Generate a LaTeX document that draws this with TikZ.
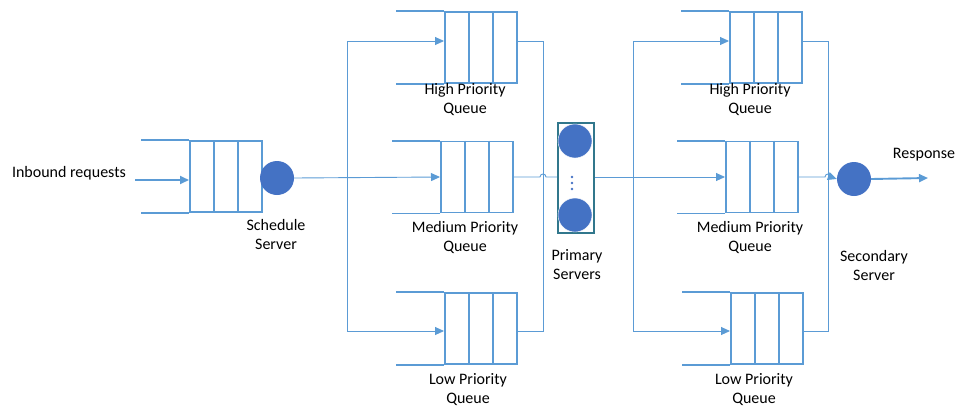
\documentclass[tikz,border=0pt]{standalone}
\usepackage{fontspec}
\setmainfont{Carlito}
\usetikzlibrary{arrows.meta,calc}

\definecolor{qblue}{RGB}{91,155,213}
\definecolor{sblue}{RGB}{68,114,196}
\definecolor{tealframe}{RGB}{49,119,140}

\tikzset{
  qline/.style={draw=qblue,line width=1.9pt},
  conn/.style={draw=qblue,line width=0.9pt},
  tip/.style={-{Triangle[length=9pt,width=8pt]}},
  server/.style={circle,fill=sblue,minimum size=34pt,inner sep=0pt},
  lbl/.style={align=center,font=\fontsize{16}{19}\selectfont,inner sep=0pt},
  qbox/.style={rectangle,qline,minimum width=72pt,minimum height=71pt,inner sep=0pt,anchor=west}
}

% a three-cell queue: name, left x, centre y
\newcommand{\queue}[3]{%
  \node[qbox] (#1) at (#2,#3) {};
  \draw[qline] ($(#1.north west)!1/3!(#1.north east)$) -- ($(#1.south west)!1/3!(#1.south east)$)
               ($(#1.north west)!2/3!(#1.north east)$) -- ($(#1.south west)!2/3!(#1.south east)$);
  \draw[qline] (#1.north west) -- ++(-48,0) (#1.south west) -- ++(-48,0);
}

\begin{document}
\begin{tikzpicture}[x=1pt,y=-1pt]
\useasboundingbox (0,0) rectangle (955,407);

% levels of the high and low branches
\coordinate (hiY) at (0,41);
\coordinate (loY) at (0,331);

% queues
\queue{inq}{189}{176.5}
\queue{hq1}{444}{47.5}
\queue{mq1}{440}{177}
\queue{lq1}{444}{328.5}
\queue{hq2}{729}{47.5}
\queue{mq2}{725}{177}
\queue{lq2}{730}{328.5}

% servers
\node[server] (ss) at (277,178) {};
\node[draw=tealframe,line width=1.7pt,minimum width=36pt,minimum height=110pt,inner sep=0pt] (pb) at (576,178) {};
\node[server,draw=white,line width=0.4pt] (p1) at (575,141) {};
\node[server,draw=white,line width=0.4pt] (p2) at (575,215) {};
\fill[sblue] (572,177) circle[radius=1.3pt] (572,183) circle[radius=1.3pt] (572,189) circle[radius=1.3pt];
\node[server] (sec) at (854,179) {};

% inbound
\coordinate (src) at (135,180);
\draw[qline,tip] (src) -- (src -| inq.west);

% schedule server to the three first-stage queues
\coordinate (splitL) at (347,177);
\draw[conn,tip] (ss.east) -- (mq1.west);
\draw[conn,tip] (splitL) |- (hq1.west |- hiY);
\draw[conn,tip] (splitL) |- (lq1.west |- loY);

% first-stage outputs to the primary servers
\coordinate (mergeL) at (543,177);
\draw[conn] (hq1.east |- hiY) -| (mergeL);
\draw[conn] (lq1.east |- loY) -| (mergeL);
\draw[conn] (mq1.east) -- ($(mergeL)+(-3,0)$) .. controls +(0,-4) and +(0,-4) .. ($(mergeL)+(3,0)$) -- (pb.west |- mq1.east);

% primary servers to the second-stage queues
\coordinate (splitR) at (633,177);
\draw[conn,tip] (pb.east |- splitR) -- (mq2.west);
\draw[conn,tip] (splitR) |- (hq2.west |- hiY);
\draw[conn,tip] (splitR) |- (lq2.west |- loY);

% second-stage outputs to the secondary server
\coordinate (mergeR) at (828,177);
\draw[conn] (hq2.east |- hiY) -| (mergeR);
\draw[conn] (lq2.east |- loY) -| (mergeR);
\draw[conn,tip] (mq2.east) -- ($(mergeR)+(-3,0)$) .. controls +(0,-4) and +(0,-4) .. ($(mergeR)+(3,0)$) -- (sec.west);

% response
\coordinate (sink) at (928,178);
\draw[qline,tip] (sec.east) -- (sink);

% labels
\node[lbl] (inlbl) at (69,173) {Inbound requests};
\node[lbl] (sslbl) at (276,234) {Schedule\\Server};
\node[lbl] (hq1lbl) at (465,100) {High Priority\\Queue};
\node[lbl] (mq1lbl) at (465,237) {Medium Priority\\Queue};
\node[lbl] (lq1lbl) at (468,389.5) {Low Priority\\Queue};
\node[lbl] (pblbl) at (577,265) {Primary\\Servers};
\node[lbl] (hq2lbl) at (750,100) {High Priority\\Queue};
\node[lbl] (mq2lbl) at (750,237) {Medium Priority\\Queue};
\node[lbl] (lq2lbl) at (754,389.5) {Low Priority\\Queue};
\node[lbl] (seclbl) at (874,265) {Secondary\\Server};
\node[lbl] (resplbl) at (924,155) {Response};
\end{tikzpicture}
\end{document}
